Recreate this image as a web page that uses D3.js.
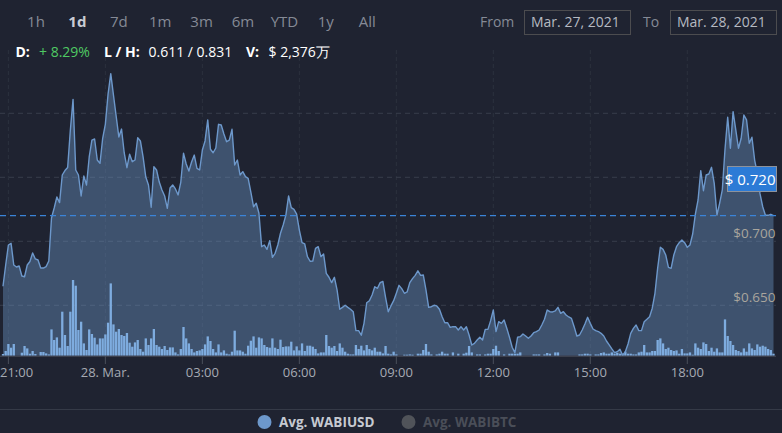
<!DOCTYPE html>
<html><head><meta charset="utf-8">
<script src="https://cdn.jsdelivr.net/npm/d3@7"></script>
<style>
html,body{margin:0;padding:0;background:#1f2331;}
svg{display:block;font-family:"Open Sans",sans-serif;}
</style></head><body>
<svg id="chart" width="782" height="433"></svg>
<script>
// ---------- data ----------
const startTime = "2021-03-27T20:50:00Z";
const stepMinutes = 5;
const prices = [
0.6649,0.6815,0.6971,0.6984,0.6815,0.6799,0.6807,0.6729,0.6723,0.6815,
0.6842,0.6909,0.6862,0.6854,0.6791,0.6791,0.6802,0.6846,0.7182,0.7260,
0.7346,0.7302,0.7518,0.7553,0.7577,0.7870,0.8109,0.7557,0.7518,0.7354,
0.7510,0.7440,0.7659,0.7791,0.7799,0.7635,0.7609,0.7805,0.7916,0.8151,
0.8310,0.8143,0.7979,0.7815,0.7877,0.7690,0.7575,0.7680,0.7622,0.7635,
0.7809,0.7784,0.7659,0.7502,0.7440,0.7266,0.7583,0.7557,0.7463,0.7401,
0.7354,0.7258,0.7416,0.7440,0.7409,0.7362,0.7463,0.7688,0.7604,0.7549,
0.7620,0.7674,0.7570,0.7557,0.7713,0.7784,0.7948,0.7719,0.7692,0.7729,
0.7914,0.7909,0.7838,0.7778,0.7791,0.7875,0.7596,0.7635,0.7518,0.7544,
0.7505,0.7492,0.7385,0.7270,0.7297,0.7219,0.6958,0.6971,0.6937,0.7005,
0.6875,0.6906,0.6971,0.7063,0.7127,0.7205,0.7354,0.7263,0.7250,0.7213,
0.7088,0.6989,0.6979,0.6880,0.6844,0.6846,0.6945,0.6958,0.6880,0.6901,
0.6750,0.6719,0.6677,0.6719,0.6620,0.6469,0.6484,0.6500,0.6484,0.6469,
0.6450,0.6302,0.6302,0.6266,0.6359,0.6520,0.6536,0.6580,0.6645,0.6633,
0.6677,0.6687,0.6562,0.6450,0.6495,0.6536,0.6594,0.6656,0.6630,0.6594,
0.6604,0.6677,0.6708,0.6734,0.6770,0.6734,0.6737,0.6620,0.6484,0.6489,
0.6500,0.6495,0.6469,0.6411,0.6364,0.6364,0.6328,0.6333,0.6333,0.6307,
0.6333,0.6307,0.6333,0.6268,0.6190,0.6203,0.6229,0.6250,0.6229,0.6312,
0.6312,0.6380,0.6463,0.6294,0.6372,0.6359,0.6385,0.6320,0.6250,0.6172,
0.6130,0.6250,0.6255,0.6276,0.6260,0.6242,0.6260,0.6286,0.6294,0.6307,
0.6346,0.6391,0.6463,0.6450,0.6448,0.6456,0.6484,0.6437,0.6450,0.6424,
0.6409,0.6398,0.6333,0.6260,0.6268,0.6307,0.6354,0.6406,0.6359,0.6315,
0.6302,0.6295,0.6281,0.6260,0.6221,0.6190,0.6159,0.6130,0.6137,0.6156,
0.6110,0.6137,0.6198,0.6281,0.6320,0.6346,0.6302,0.6302,0.6372,0.6391,
0.6411,0.6477,0.6594,0.6791,0.6953,0.6937,0.6893,0.6797,0.6789,0.6893,
0.6958,0.6989,0.7010,0.6989,0.6953,0.6971,0.7057,0.7213,0.7323,0.7552,
0.7395,0.7518,0.7526,0.7578,0.7453,0.7205,0.7297,0.7401,0.7719,0.7969,
0.7727,0.8013,0.7870,0.7727,0.7805,0.7987,0.7948,0.7766,0.7813,0.7635,
0.7531,0.7370,0.7270,0.7203,0.7203,0.7211,0.7200
];
// volume per 5-minute bar, in 万 USD
const volumes = [
1.7,4.7,11.7,8,11.7,0,0,3,9.7,7.3,
2,4.7,1.7,0,3.7,3.7,2.3,1.3,26.3,15.7,
18.3,8,44,20.7,9.7,44,75.7,70,25.7,34,
12.3,5.7,26.3,21.7,18,11.3,17.3,17.3,21.3,33,
72.3,31.3,24,26.7,20.7,19.7,22.7,13,9,13.3,
15.7,6.7,4,17.3,10.7,17.3,26.7,10.7,9,6.7,
9.7,5.7,8.3,8.3,3.3,1.3,6.7,28.7,17.3,12.3,
6.7,3.3,4.7,5.3,6.7,11.3,19.3,14.7,6.7,3.3,
11.3,3.3,5.3,2,1.3,4,25,5.3,5.3,4,
2,10,15,19.3,8,18.3,17.3,10.7,8.7,8,
17.3,8,6.7,16,8.7,9.3,9.3,14,5.3,9.3,
5.3,12.3,4.7,10,10,9,6.7,2.3,3.3,3.3,
20.7,9.7,8,9.7,4.7,12.3,8,4,2,1.3,
1.3,10.7,6.7,10,5.3,10.7,6.7,5.3,8,4,
4,2.3,9.7,2,1.3,4,1.3,0,0,1,
1,1.3,1,0,2,2,5.7,11.7,4,1.3,
0,1.3,2,4,2,2,0,3.3,0,2,
0,2,3,9.7,3.3,0,1.3,1.3,0,1.3,
2,2,6.7,10,4.7,0,1.3,0,2,2,
2,2,3.3,0,0,0,0,1.3,1.3,1.3,
0,1.3,2.7,2,0,3.3,3.3,0,0,0,
0,0,0,0,1.3,1.3,2,2,1.3,0,
1.3,1.3,2.7,3.3,2,2,3.3,2,2.7,2,
2,4,2,2,1.3,1.3,3.3,4,10.7,3.3,
3.3,4.7,4.7,15.7,17.3,12.3,6.7,8,5.7,4.7,
5.3,2,6.7,2.3,2.3,3.3,1,12.3,8,6.7,
13.3,11.7,4.7,8,4,7.3,3.3,3.3,36.3,19.7,
14.7,10.7,5.7,4.7,3.3,7.3,4,12.3,7.3,5.7,
11.3,9,10,9,6.7,5.7,2
];
const xTickTimes = ["2021-03-27T21:00:00Z","2021-03-28T00:00:00Z","2021-03-28T03:00:00Z",
  "2021-03-28T06:00:00Z","2021-03-28T09:00:00Z","2021-03-28T12:00:00Z",
  "2021-03-28T15:00:00Z","2021-03-28T18:00:00Z"];
const yGridTicks = [0.65, 0.70, 0.75, 0.80];
const yLabelTicks = [0.65, 0.70];
const currentPrice = 0.720;
const rangeButtons = ["1h","1d","7d","1m","3m","6m","YTD","1y","All"];
const selectedButton = "1d";
const changeText = "+ 8.29%";
const lowHigh = [0.611, 0.831];
const volumeText = "$ 2,376万";
const fromDate = "Mar. 27, 2021";
const toDate = "Mar. 28, 2021";
const seriesNames = ["Avg. WABIUSD", "Avg. WABIBTC"];

// ---------- drawing ----------
const W = 782, H = 433;
const svg = d3.select("#chart");
svg.append("rect").attr("width", W).attr("height", H).attr("fill", "#1f2331");

const plotTop = 50, plotBottom = 355.7, plotRight = 776;
const t0 = d3.isoParse(startTime);
const times = prices.map((_, i) => new Date(t0.getTime() + i * stepMinutes * 60000));
const x = d3.scaleUtc().domain([times[0], times[times.length - 1]]).range([3, 773.5]);
const y = d3.scaleLinear().domain([0.6, 0.85]).range([369.3, 49.3]);
const yv = d3.scaleLinear().domain([0, 100]).range([plotBottom, plotBottom - 100]);
const xTicks = xTickTimes.map(d3.isoParse);

// grid
const grid = svg.append("g");
grid.selectAll(".vg").data(xTicks).enter().append("line")
  .attr("x1", d => x(d)).attr("x2", d => x(d))
  .attr("y1", plotTop).attr("y2", plotBottom)
  .attr("stroke", "#2c313e").attr("stroke-dasharray", "4,3");
grid.selectAll(".hg").data(yGridTicks).enter().append("line")
  .attr("x1", 0).attr("x2", plotRight)
  .attr("y1", d => y(d)).attr("y2", d => y(d))
  .attr("stroke", "#383d4b").attr("stroke-dasharray", "5,4");

// area + line
const lineColor = "#6d98cb";
svg.append("path").datum(prices)
  .attr("d", d3.area().x((d, i) => x(times[i])).y0(plotBottom).y1(d => y(d)))
  .attr("fill", lineColor).attr("fill-opacity", 0.4);

// volume bars
const bw = 2.3;
svg.append("g").selectAll("rect").data(volumes).enter().append("rect")
  .attr("x", (d, i) => x(times[i]) - bw / 2)
  .attr("y", d => yv(d))
  .attr("width", bw)
  .attr("height", d => plotBottom - yv(d))
  .attr("fill", "#7eacdf");

svg.append("path").datum(prices)
  .attr("d", d3.line().x((d, i) => x(times[i])).y(d => y(d)))
  .attr("fill", "none").attr("stroke", lineColor).attr("stroke-width", 1.4)
  .attr("stroke-linejoin", "round");

// current price line
svg.append("line").attr("x1", 0).attr("x2", plotRight)
  .attr("y1", y(currentPrice)).attr("y2", y(currentPrice))
  .attr("stroke", "#3b84d8").attr("stroke-dasharray", "6,4").attr("stroke-width", 1.2);

// y labels
svg.append("g").selectAll("text").data(yLabelTicks).enter().append("text")
  .attr("x", 775.5).attr("y", d => y(d) - 3.5)
  .attr("text-anchor", "end").attr("fill", "#a9a59d")
  .style("font-size", "13.5px").text(d => "$" + d.toFixed(3));

// price box
svg.append("rect").attr("x", 727.5).attr("y", 166.5).attr("width", 49).attr("height", 25)
  .attr("fill", "#2c7bd6").attr("stroke", "#8d929b").attr("stroke-width", 1);
svg.append("text").attr("x", 775.5).attr("y", 184.5).attr("fill", "#ffffff")
  .attr("text-anchor", "end")
  .style("font-size", "15px").text("$ " + currentPrice.toFixed(3));

// x axis
svg.append("line").attr("x1", 0).attr("x2", plotRight).attr("y1", 356.2).attr("y2", 356.2)
  .attr("stroke", "#4a4f5b");
const fmtTick = d => (d.getUTCHours() === 0 ? d3.utcFormat("%-d. %b.")(d) : d3.utcFormat("%H:%M")(d));
const xg = svg.append("g");
xg.selectAll("line").data(xTicks).enter().append("line")
  .attr("x1", d => x(d)).attr("x2", d => x(d)).attr("y1", 356).attr("y2", 364)
  .attr("stroke", "#4a4f5b");
xg.selectAll("text").data(xTicks).enter().append("text")
  .attr("x", d => x(d)).attr("y", 377)
  .attr("text-anchor", "middle").attr("fill", "#a6aab3")
  .style("font-size", "13px").text(fmtTick)
  .each(function () {
    const b = this.getBBox();
    if (b.x < 0) d3.select(this).attr("text-anchor", "start").attr("x", 0);
  });

// separator + legend
svg.append("line").attr("x1", 0).attr("x2", W).attr("y1", 409.5).attr("y2", 409.5)
  .attr("stroke", "#353a47");
const legendColors = [lineColor, "#505359"];
const legendTextColors = ["#c5c9d1", "#4a4e58"];
const legendX = [264.5, 408.5];
seriesNames.forEach((n, i) => {
  svg.append("circle").attr("cx", legendX[i]).attr("cy", 422).attr("r", 7).attr("fill", legendColors[i]);
  svg.append("text").attr("x", legendX[i] + 14.5).attr("y", 426.5).attr("fill", legendTextColors[i])
    .style("font-size", "13.5px").style("font-weight", "bold").text(n);
});

// range selector buttons
svg.append("g").selectAll("text").data(rangeButtons).enter().append("text")
  .attr("x", (d, i) => 36 + i * 41.4).attr("y", 26.5)
  .attr("text-anchor", "middle")
  .attr("fill", d => d === selectedButton ? "#c9ccd4" : "#858a96")
  .style("font-weight", d => d === selectedButton ? "bold" : "normal")
  .style("font-size", "15px").text(d => d);

// info line
const info = [
  {t: "D:", x: 15.5, c: "#ffffff", b: true},
  {t: changeText, x: 39, c: "#4fca63", b: false},
  {t: "L / H:", x: 104, c: "#ffffff", b: true},
  {t: lowHigh[0].toFixed(3) + " / " + lowHigh[1].toFixed(3), x: 148.5, c: "#ffffff", b: false},
  {t: "V:", x: 246, c: "#ffffff", b: true},
  {t: volumeText, x: 268.5, c: "#ffffff", b: false}
];
svg.append("g").selectAll("text").data(info).enter().append("text")
  .attr("x", d => d.x).attr("y", 57).attr("fill", d => d.c)
  .style("font-weight", d => d.b ? "bold" : "normal")
  .style("font-size", "14px").text(d => d.t);

// date inputs
svg.append("text").attr("x", 480).attr("y", 26.5).attr("fill", "#858a96").style("font-size", "14px").text("From");
svg.append("text").attr("x", 643).attr("y", 26.5).attr("fill", "#858a96").style("font-size", "14px").text("To");
[[524.5, fromDate], [670.5, toDate]].forEach(([bx, t]) => {
  svg.append("rect").attr("x", bx).attr("y", 10.5).attr("width", 106).attr("height", 24)
    .attr("fill", "none").attr("stroke", "#4c4c4f");
  svg.append("text").attr("x", bx + 6.5).attr("y", 27).attr("fill", "#b6bac2")
    .style("font-size", "14px").text(t);
});
</script>
</body></html>
